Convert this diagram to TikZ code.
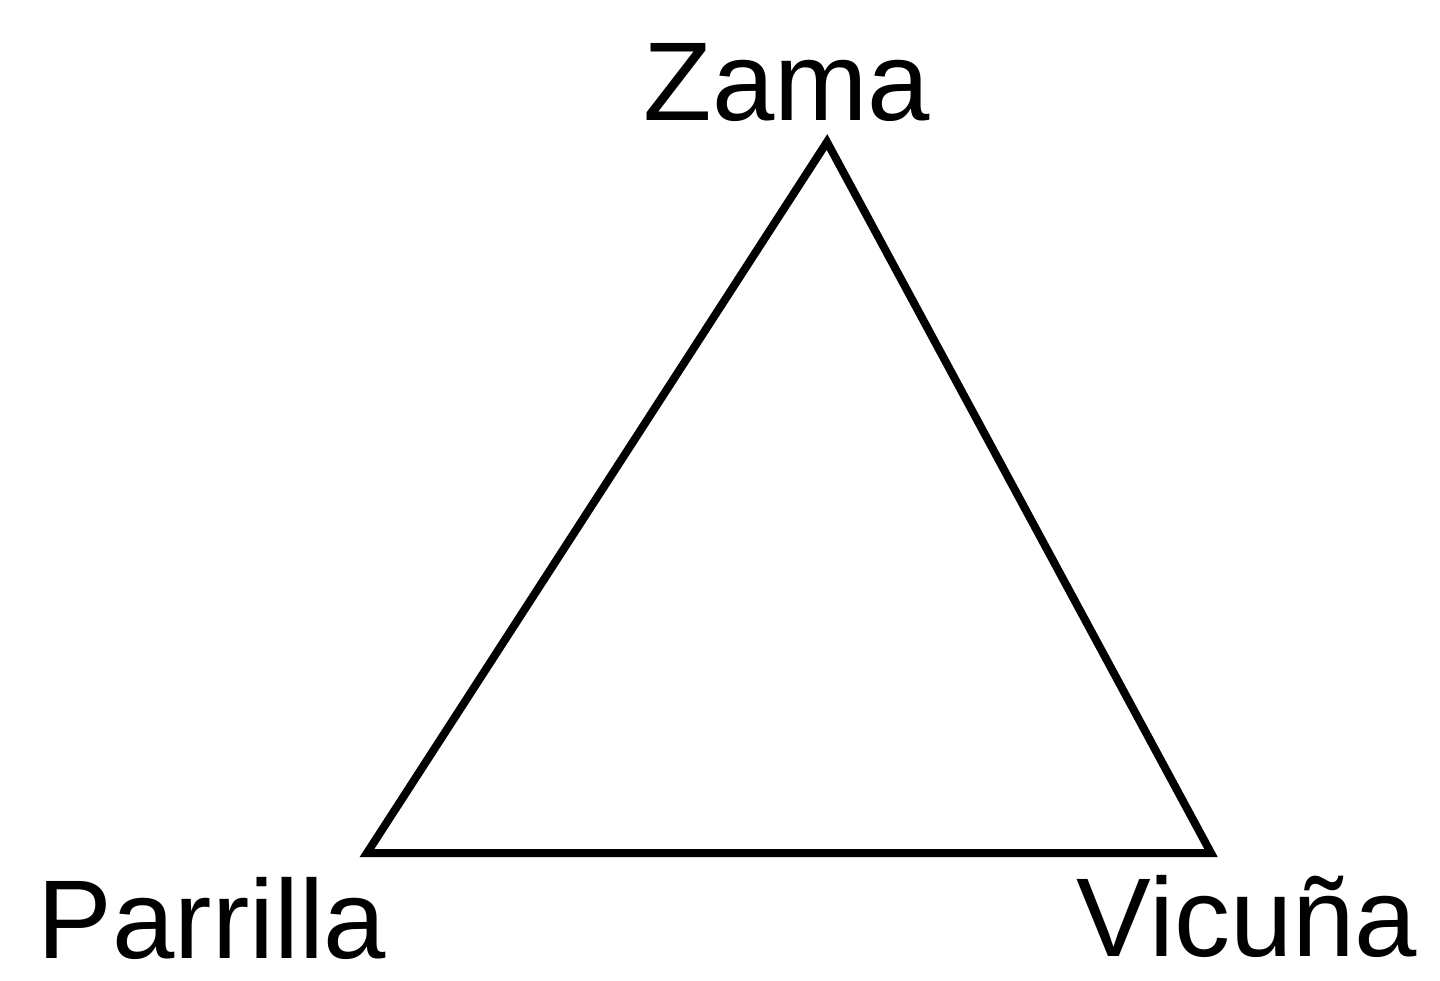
\documentclass[tikz,border=0pt]{standalone}
\usepackage{fontspec}
\setmainfont{Liberation Sans}
\begin{document}
\begin{tikzpicture}[x=1pt,y=-1pt,
  lbl/.style={inner sep=0pt,anchor=base,font=\fontsize{112}{130}\selectfont},
  edge/.style={line width=8pt,line join=miter,miter limit=20}]
\useasboundingbox (0,0) rectangle (1440,980);
\coordinate (Z) at (827,142);
\coordinate (P) at (367,853);
\coordinate (V) at (1211,853);
\draw[edge] (Z) -- (P) -- (V) -- cycle;
\node[lbl] (zama) at (787,120) {Zama};
\node[lbl] (parrilla) at (212,958) {Parrilla};
\node[lbl] (vicuna) at (1247,956) {Vicuña};
\end{tikzpicture}
\end{document}
